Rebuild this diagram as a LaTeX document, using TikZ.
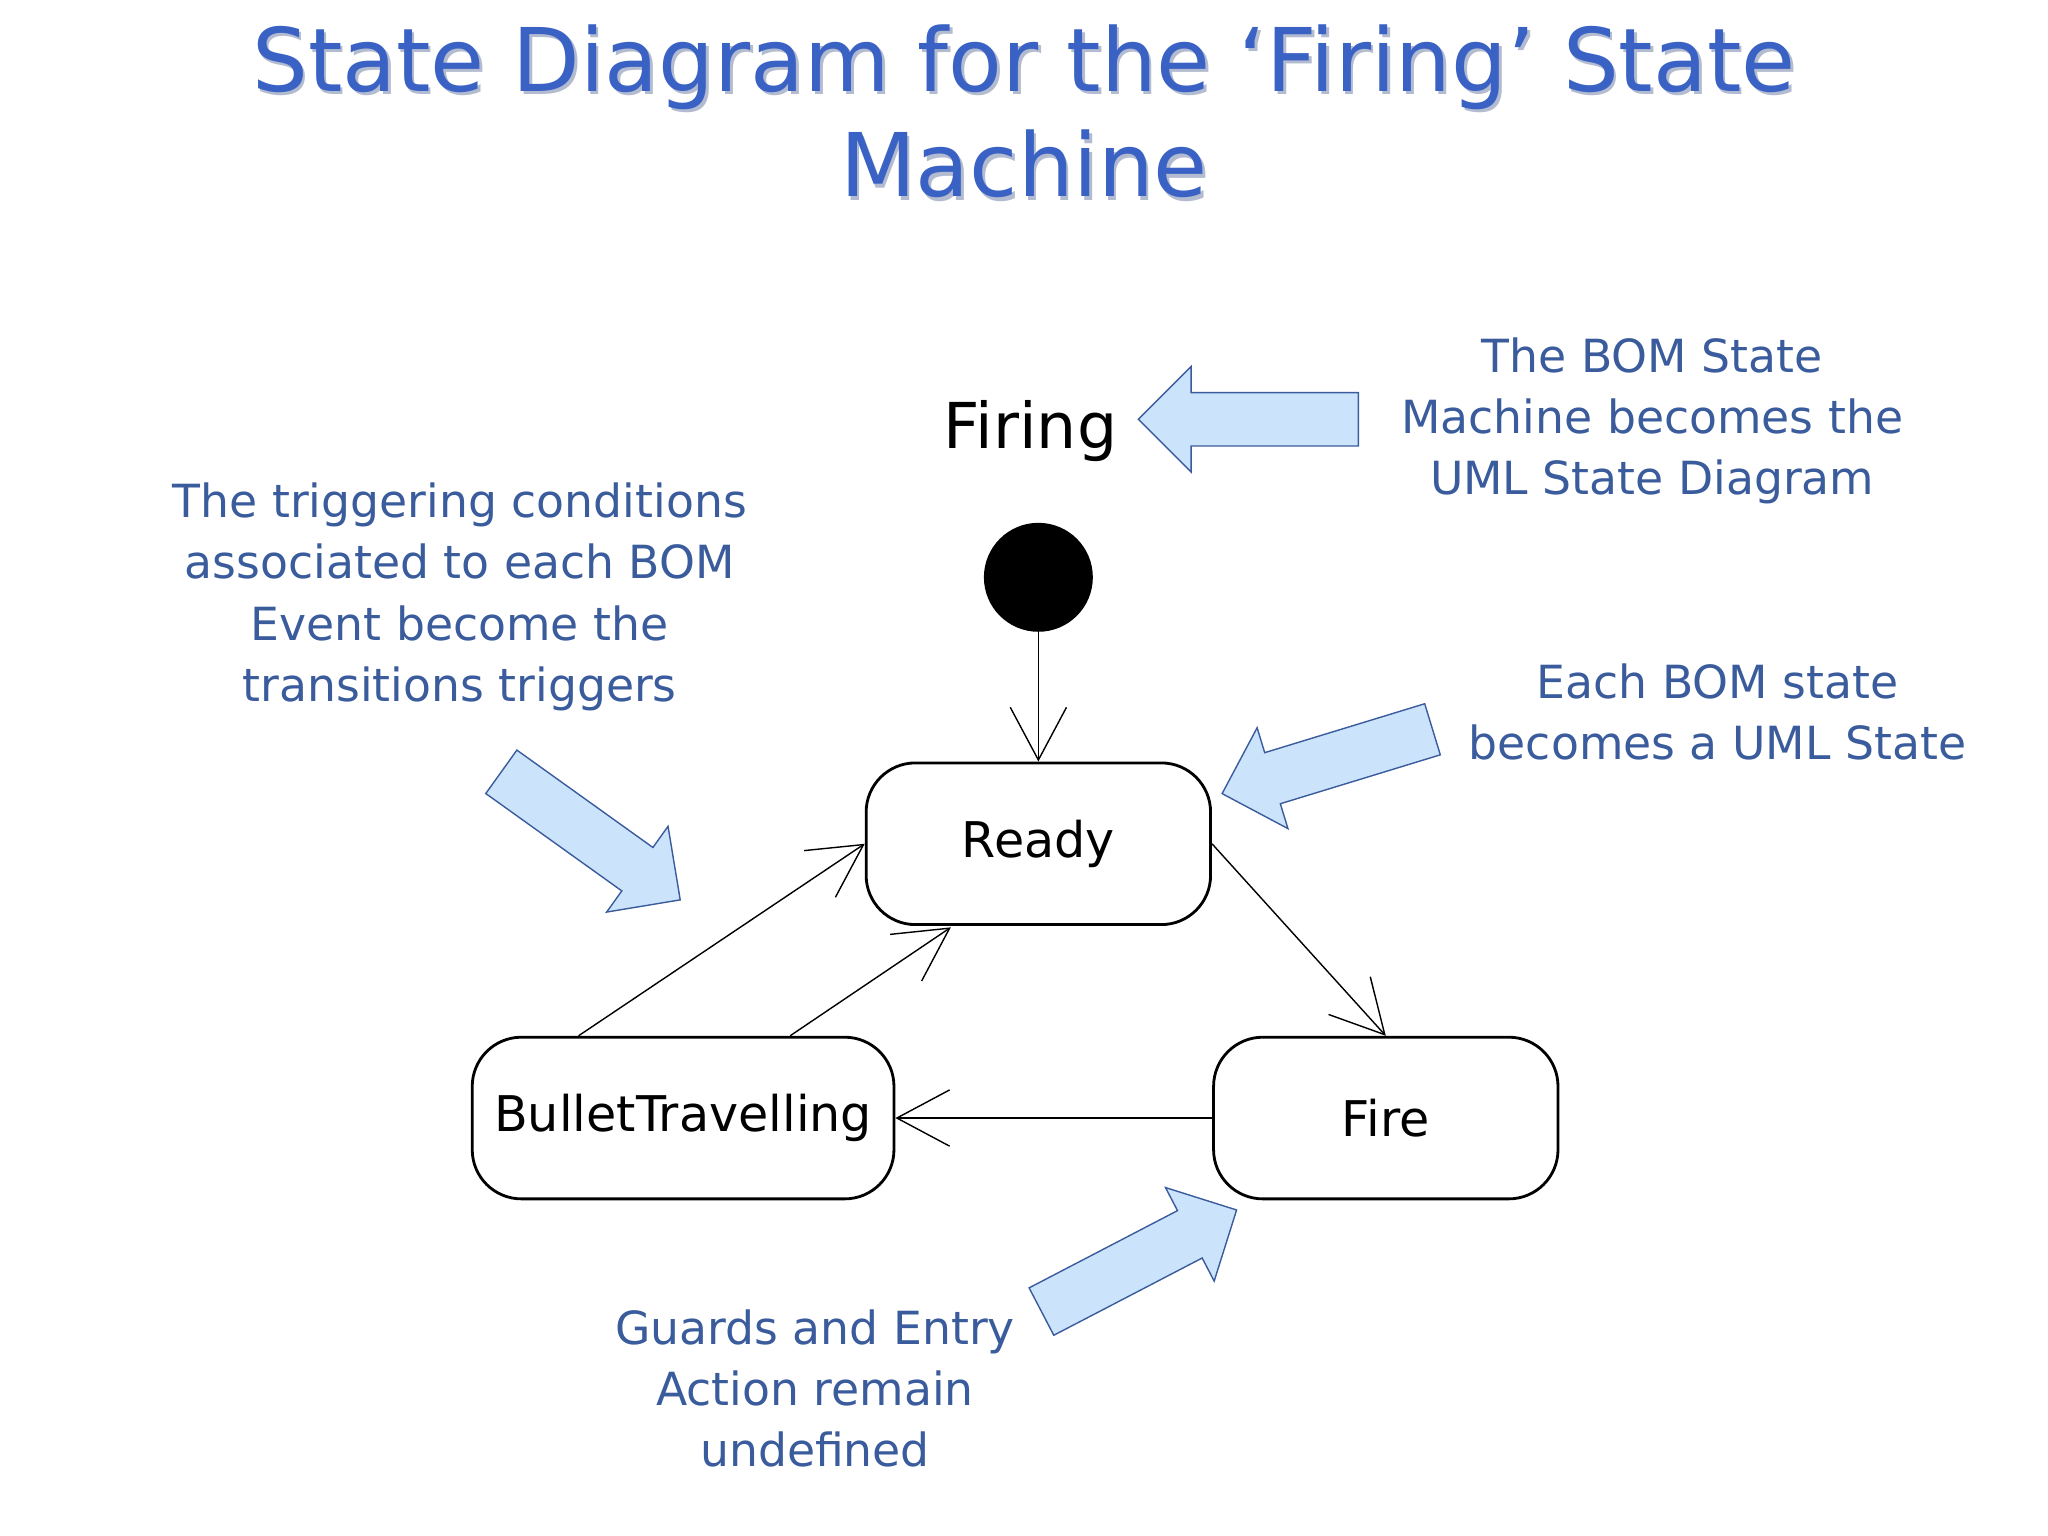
\documentclass[tikz,border=0pt]{standalone}
\usepackage{fontspec}
\setmainfont{DejaVu Sans}
\usetikzlibrary{arrows.meta,shapes.arrows,positioning}
\definecolor{titleblue}{HTML}{3A62C4}
\definecolor{notetext}{HTML}{3A5C9C}
\definecolor{blockfill}{HTML}{CCE4FB}

\begin{document}
\begin{tikzpicture}[
x=0.01306cm,y=-0.01306cm,
state/.style={
  draw,
  thick,
  rounded corners=14pt,
  font=\fontsize{14}{16}\selectfont
  },
note/.style={
  align=center,
  text=notetext,
  font=\fontsize{13}{17.4}\selectfont
  },
block/.style={
  single arrow,
  draw=notetext,
  fill=blockfill,
  inner sep=7.4pt,
  single arrow head extend=7.4pt,
  minimum height=62.6pt
  },
trans/.style={
  -{Straight Barb[length=15pt,width=16pt]}
  },
>=latex
]
\useasboundingbox (0,0) rectangle (1568,1176);

% title
\node[text=titleblue!60!black,opacity=.35,font=\fontsize{25}{30}\selectfont,align=center] at (786,88)
  {State Diagram for the ‘Firing’ State\\Machine};
\node[text=titleblue,font=\fontsize{25}{30}\selectfont,align=center] (title) at (784,85)
  {State Diagram for the ‘Firing’ State\\Machine};

\node[font=\fontsize{18}{20}\selectfont] (machine) at (789,330) {Firing};

% states
\node[circle,fill,minimum size=31pt,inner sep=0] (init) at (795,442) {};
\node[state,minimum width=98pt,minimum height=46pt] (ready) at (795,646) {Ready};
\node[state,minimum width=120pt,minimum height=46pt] (bullet) at (523,856) {BulletTravelling};
\node[state,minimum width=98pt,minimum height=46pt] (fire) at (1061,856) {Fire};
\coordinate (b1) at (443,793);
\coordinate (b2) at (605,793);
\coordinate (r1) at (728,710);

% transitions
\draw[trans] (init) -- (ready);
\draw[trans] (ready.east) -- (fire.north);
\draw[trans] (fire) -- (bullet);
\draw[trans] (b1) -- (ready.west);
\draw[trans] (b2) -- (r1);

% notes
\node[note] (bomnote) at (1265,322) {The BOM State\\Machine becomes the\\UML State Diagram};
\node[note] (trignote) at (352,457) {The triggering conditions\\associated to each BOM\\Event become the\\transitions triggers};
\node[note] (statenote) at (1315,545) {Each BOM state\\becomes a UML State};
\node[note] (guardnote) at (624,1063) {Guards and Entry\\Action remain\\undefined};

% pointers
\node[block,rotate=180] (p1) at (966,321) {};
\node[block,rotate=197] (p2) at (1026,580) {};
\node[block,rotate=-35.6] (p3) at (444,634) {};
\node[block,rotate=27.5] (p4) at (863,970) {};
\end{tikzpicture}
\end{document}
